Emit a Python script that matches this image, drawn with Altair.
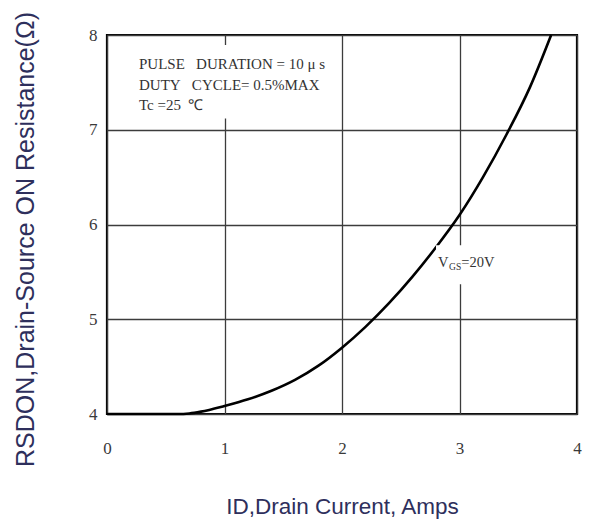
import altair as alt
import pandas as pd

# Curve
current = [0.0, 0.3, 0.6, 0.7, 0.8, 1.0, 1.2, 1.4, 1.6, 1.8, 2.0, 2.2, 2.4, 2.6, 2.8, 3.0, 3.2, 3.4, 3.6, 3.78]
rdson = [4.0, 4.0, 4.0, 4.006, 4.025, 4.085, 4.155, 4.245, 4.36, 4.51, 4.70, 4.92, 5.17, 5.45, 5.76, 6.10, 6.50, 6.95, 7.45, 8.0]

x_ticks = [0, 1, 2, 3, 4]
y_ticks = [4, 5, 6, 7, 8]

NB = "\u00a0"
note_lines = ["PULSE" + NB * 3 + "DURATION = 10 μ s", "DUTY" + NB * 3 + "CYCLE= 0.5%MAX", "Tc =25" + NB * 2 + "℃"]
note_x = [0.272, 0.272, 0.272]
note_y = [7.641, 7.42, 7.209]

# white boxes behind annotations (break the grid lines)
box_x = [0.255, 2.80]
box_x2 = [1.90, 3.32]
box_y = [7.12, 5.37]
box_y2 = [7.895, 5.78]

vgs_text = ["V", "GS", "=20V"]
vgs_x = [2.817, 2.911, 3.015]
vgs_y = [5.55, 5.515, 5.55]
vgs_size = [14.5, 9.5, 14.5]

curve_df = pd.DataFrame({"id": current, "r": rdson})
note_df = pd.DataFrame({"t": note_lines, "x": note_x, "y": note_y})
box_df = pd.DataFrame({"x": box_x, "x2": box_x2, "y": box_y, "y2": box_y2})
vgs_df = pd.DataFrame({"t": vgs_text, "x": vgs_x, "y": vgs_y, "s": vgs_size})

xscale = alt.Scale(domain=[0, 4], nice=False, zero=False)
yscale = alt.Scale(domain=[4, 8], nice=False, zero=False)

title_color = "#2e2f5c"

xaxis = alt.Axis(
    values=x_ticks, format="d", grid=True, gridColor="#3c3c3c", gridWidth=1.3,
    domain=False, ticks=False, labelFlush=False,
    labelFont="Liberation Serif", labelFontSize=17, labelColor="#3a3a3a",
    labelPadding=26, labelBaseline="top",
    title="ID,Drain Current, Amps", titleFont="Liberation Sans",
    titleFontSize=22.5, titleFontWeight="normal", titleColor=title_color,
    titleY=99, titleBaseline="alphabetic",
)
yaxis = alt.Axis(
    values=y_ticks, format="d", grid=True, gridColor="#3c3c3c", gridWidth=1.3,
    domain=False, ticks=False, labelFlush=False,
    labelFont="Liberation Serif", labelFontSize=17, labelColor="#3a3a3a",
    labelPadding=10,
    title="RSDON,Drain-Source ON Resistance(Ω)", titleFont="Liberation Sans",
    titleFontSize=25, titleFontWeight="normal", titleColor=title_color,
    titleX=-82, titleY=204, titleAlign="center", titleBaseline="middle", titleAngle=270,
)

curve = alt.Chart(curve_df).mark_line(
    interpolate="monotone", color="black", strokeWidth=2.6
).encode(
    x=alt.X("id:Q", scale=xscale, axis=xaxis),
    y=alt.Y("r:Q", scale=yscale, axis=yaxis),
)

boxes = alt.Chart(box_df).mark_rect(fill="white").encode(
    x=alt.X("x:Q", scale=xscale), x2="x2:Q",
    y=alt.Y("y:Q", scale=yscale), y2="y2:Q",
)

notes = alt.Chart(note_df).mark_text(
    align="left", baseline="alphabetic", font="Liberation Serif",
    fontSize=15, color="#333333"
).encode(
    x=alt.X("x:Q", scale=xscale), y=alt.Y("y:Q", scale=yscale), text="t:N"
)

vgs = alt.Chart(vgs_df).mark_text(
    align="left", baseline="alphabetic", font="Liberation Serif", color="#333333"
).encode(
    x=alt.X("x:Q", scale=xscale), y=alt.Y("y:Q", scale=yscale), text="t:N",
    size=alt.Size("s:Q", scale=None, legend=None),
)

chart = alt.layer(curve, boxes, notes, vgs).properties(
    width=470, height=379,
    autosize=alt.AutoSizeParams(type="none"),
    padding={"left": 99, "top": 27, "right": 13, "bottom": 106},
    background="white",
).configure_view(stroke="black", strokeWidth=2.2)

chart.save("out.html", embed_options={"renderer": "svg", "actions": False})
